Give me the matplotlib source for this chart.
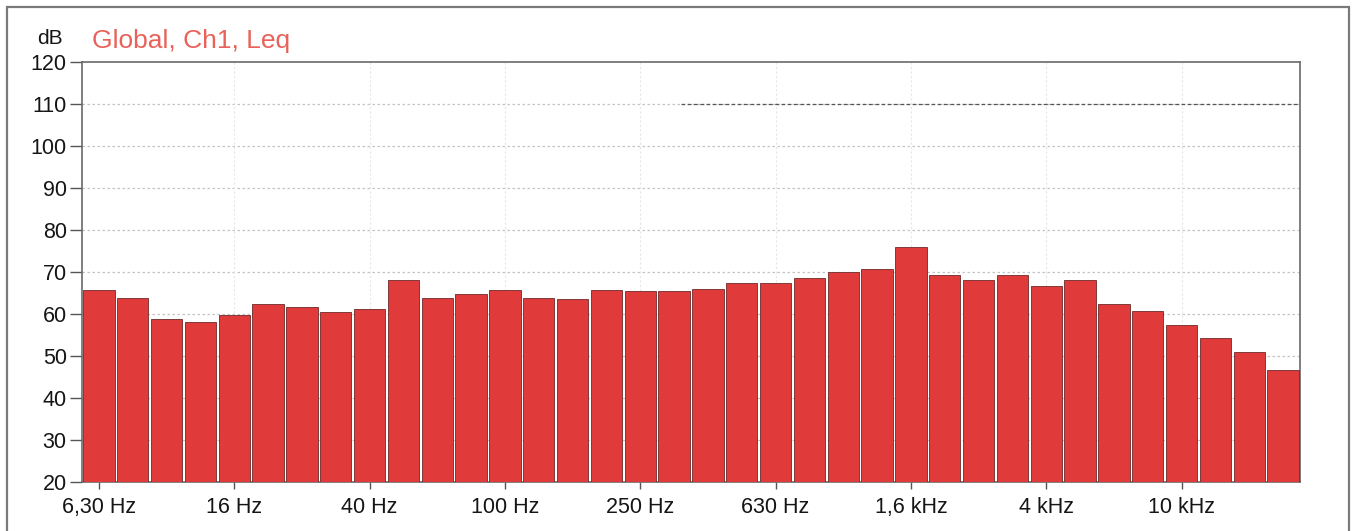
import matplotlib
matplotlib.use("Agg")
import matplotlib.pyplot as plt
from matplotlib.patches import Rectangle

plt.rcParams['font.family'] = ['Liberation Sans', 'DejaVu Sans']

# 1/3-octave band centre frequencies
bands = ["6,30 Hz", "8 Hz", "10 Hz", "12,5 Hz", "16 Hz", "20 Hz", "25 Hz", "31,5 Hz",
         "40 Hz", "50 Hz", "63 Hz", "80 Hz", "100 Hz", "125 Hz", "160 Hz", "200 Hz",
         "250 Hz", "315 Hz", "400 Hz", "500 Hz", "630 Hz", "800 Hz", "1 kHz", "1,25 kHz",
         "1,6 kHz", "2 kHz", "2,5 kHz", "3,15 kHz", "4 kHz", "5 kHz", "6,3 kHz", "8 kHz",
         "10 kHz", "12,5 kHz", "16 kHz", "20 kHz"]

# Leq per band, dB
leq = [65.7, 63.7, 58.9, 58.0, 59.8, 62.5, 61.7, 60.5,
       61.3, 68.2, 63.9, 64.7, 65.8, 63.7, 63.5, 65.8,
       65.4, 65.5, 66.0, 67.4, 67.4, 68.6, 70.1, 70.8,
       76.0, 69.3, 68.1, 69.2, 66.7, 68.1, 62.5, 60.8,
       57.4, 54.4, 51.0, 46.7]

label_every = 4
y_ticks = list(range(20, 121, 10))

fig = plt.figure(figsize=(13.55, 5.31), dpi=100)
fig.patch.set_facecolor("white")

# outer frame
fig.patches.append(Rectangle((7 / 1355, -0.05), (1349 - 7) / 1355, 1.05 - 7 / 531,
                             transform=fig.transFigure, fill=False,
                             edgecolor="#7a7a7a", linewidth=1.6))

ax = fig.add_axes([82 / 1355, 1 - 482 / 531, (1300 - 82) / 1355, (482 - 62) / 531])

x = list(range(len(bands)))
ax.bar(x, leq, bottom=0, width=0.93, color="#E03A3A", edgecolor="#6e2a2a",
       linewidth=0.6, zorder=3)

ax.set_xlim(-0.5, len(bands) - 0.5)
ax.set_ylim(20, 120)
ax.set_yticks(y_ticks)
ax.set_yticklabels([str(v) for v in y_ticks], fontsize=15.5)

tick_pos = x[::label_every]
ax.set_xticks(tick_pos)
ax.set_xticklabels(bands[::label_every], fontsize=15.5, va="baseline")

ax.tick_params(axis="y", direction="out", length=9, width=1, color="#555555",
               pad=2, labelcolor="#151515")
ax.tick_params(axis="x", direction="out", length=5, width=1, color="#555555",
               pad=17, labelcolor="#151515")

for s in ax.spines.values():
    s.set_color("#6a6a6a")
    s.set_linewidth(1.2)

# dotted grid
for v in y_ticks[1:-1]:
    ax.axhline(v, color="#c4c4c4", linestyle=(0, (2, 2)), linewidth=0.9, zorder=1)
for p in tick_pos[1:]:
    ax.axvline(p, color="#e6e6e6", linestyle=(0, (2, 2)), linewidth=0.8, zorder=1)
ax.plot([17.2, 35.5], [110, 110], color="#555555", linestyle=(0, (3, 2)),
        linewidth=0.9, zorder=2)

ax.set_ylim(20, 120)

fig.text(37 / 1355, 1 - 38 / 531, "dB", fontsize=15, color="#151515",
         ha="left", va="center")
fig.text(92 / 1355, 1 - 41 / 531, "Global, Ch1, Leq", fontsize=19,
         color="#E8625A", ha="left", va="center")

fig.savefig("out.png", dpi=100, facecolor="white")
